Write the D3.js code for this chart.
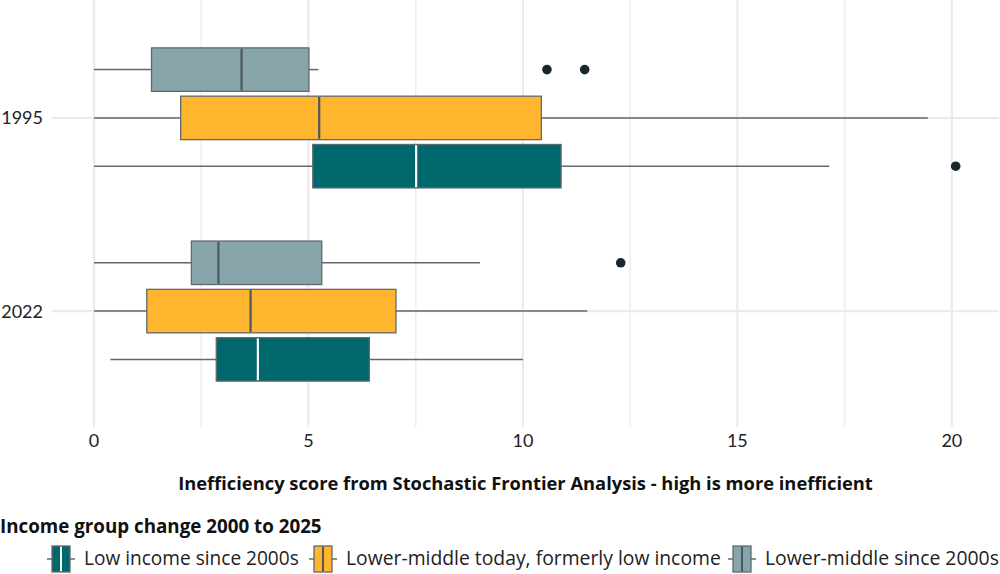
<!DOCTYPE html>
<html>
<head>
<meta charset="utf-8">
<script src="https://cdn.jsdelivr.net/npm/d3@7"></script>
<style>
  html, body { margin: 0; padding: 0; background: #fff; }
  svg { display: block; font-family: "Open Sans", "Noto Sans", sans-serif; }
</style>
</head>
<body>
<svg id="chart" width="1000" height="574"></svg>
<script>
// ---- data ----
const years = ["1995", "2022"];
const groups = ["Low income since 2000s", "Lower-middle today, formerly low income", "Lower-middle since 2000s"];
const colors = ["#00676d", "#ffb52e", "#87a5ab"];
const medianColors = ["#ffffff", "#4d585c", "#4d585c"];
// [whiskerLow, q1, median, q3, whiskerHigh] per year
const lowIncomeStats = [[0, 5.10, 7.51, 10.89, 17.14], [0.38, 2.85, 3.82, 6.42, 10.0]];
const lowerMidFormerStats = [[0, 2.02, 5.25, 10.43, 19.44], [0, 1.23, 3.65, 7.04, 11.5]];
const lowerMidStats = [[0, 1.34, 3.44, 5.01, 5.23], [0, 2.27, 2.90, 5.31, 9.0]];
const lowIncomeOutliers = [[20.09], []];
const lowerMidFormerOutliers = [[], []];
const lowerMidOutliers = [[10.56, 11.44], [12.28]];
const xTicks = [0, 5, 10, 15, 20];
const xMinor = [2.5, 7.5, 12.5, 17.5];
const xTitle = "Inefficiency score from Stochastic Frontier Analysis - high is more inefficient";
const legendTitle = "Income group change 2000 to 2025";

const stats = [lowIncomeStats, lowerMidFormerStats, lowerMidStats];
const outliers = [lowIncomeOutliers, lowerMidFormerOutliers, lowerMidOutliers];
// dodge offsets (in year units): low income bottom, lower-middle top
const dodge = [0.25, 0, -0.25];
const boxH = 0.225;

// scale a text's font size so that it spans the wanted width
function fitText(sel, width) {
  const base = 16;
  sel.attr("font-size", base);
  const w = sel.node().getComputedTextLength();
  if (w > 0) sel.attr("font-size", base * width / w);
  return sel;
}

// ---- layout ----
const svg = d3.select("#chart");
const panel = { left: 52, right: 999, top: 2, bottom: 427 };
const x = d3.scaleLinear().domain([-0.98, 21.1]).range([panel.left, panel.right]);
const y = d3.scaleLinear().domain([0.4, 2.6]).range([panel.top, panel.bottom]);
const yPos = yr => y(years.indexOf(yr) + 1);

const grid = svg.append("g");
grid.selectAll("line.minor").data(xMinor).join("line")
  .attr("x1", d => x(d)).attr("x2", d => x(d))
  .attr("y1", panel.top - 2).attr("y2", panel.bottom)
  .attr("stroke", "#efefef").attr("stroke-width", 1.6);
grid.selectAll("line.major").data(xTicks).join("line")
  .attr("x1", d => x(d)).attr("x2", d => x(d))
  .attr("y1", panel.top - 2).attr("y2", panel.bottom)
  .attr("stroke", "#ebebeb").attr("stroke-width", 2.2);
grid.selectAll("line.ymajor").data(years).join("line")
  .attr("x1", panel.left).attr("x2", panel.right)
  .attr("y1", d => yPos(d)).attr("y2", d => yPos(d))
  .attr("stroke", "#ebebeb").attr("stroke-width", 2.2);

// ---- boxes ----
const outlineCol = "#5f6a6d";
const boxes = svg.append("g");
groups.forEach((g, gi) => {
  years.forEach((yr, yi) => {
    const s = stats[gi][yi];
    const cy = y(yi + 1 + dodge[gi]);
    const h = y(boxH) - y(0);
    const grp = boxes.append("g");
    grp.append("line").attr("x1", x(s[0])).attr("x2", x(s[1]))
      .attr("y1", cy).attr("y2", cy).attr("stroke", outlineCol).attr("stroke-width", 1.5);
    grp.append("line").attr("x1", x(s[3])).attr("x2", x(s[4]))
      .attr("y1", cy).attr("y2", cy).attr("stroke", outlineCol).attr("stroke-width", 1.5);
    grp.append("rect").attr("x", x(s[1])).attr("width", x(s[3]) - x(s[1]))
      .attr("y", cy - h / 2).attr("height", h)
      .attr("fill", colors[gi]).attr("stroke", outlineCol).attr("stroke-width", 1.3);
    grp.append("line").attr("x1", x(s[2])).attr("x2", x(s[2]))
      .attr("y1", cy - h / 2 + 0.8).attr("y2", cy + h / 2 - 0.8)
      .attr("stroke", medianColors[gi]).attr("stroke-width", 2.2);
    grp.selectAll("circle").data(outliers[gi][yi]).join("circle")
      .attr("cx", d => x(d)).attr("cy", cy).attr("r", 4.8).attr("fill", "#17272b");
  });
});

// ---- axes text ----
svg.append("g").selectAll("text").data(years).join("text")
  .attr("x", 43).attr("y", d => yPos(d) + 6.5).attr("text-anchor", "end")
  .attr("font-family", "Lato, sans-serif").attr("font-size", 18)
  .attr("fill", "#222").text(d => d);
svg.append("g").selectAll("text").data(xTicks).join("text")
  .attr("x", d => x(d)).attr("y", 447).attr("text-anchor", "middle")
  .attr("font-family", "Lato, sans-serif").attr("font-size", 18)
  .attr("fill", "#222").text(d => d);

const xt = svg.append("text").attr("x", 525.5).attr("y", 490)
  .attr("text-anchor", "middle").attr("font-weight", "bold")
  .attr("fill", "#111").text(xTitle);
fitText(xt, 695);

// ---- legend ----
const lt = svg.append("text").attr("x", 0).attr("y", 532.5)
  .attr("font-weight", "bold").attr("fill", "#111").text(legendTitle);
fitText(lt, 322);

const legendX = [47, 309, 728];
const legendTextW = [215, 375, 234];
const leg = svg.append("g");
groups.forEach((g, gi) => {
  const lx = legendX[gi];
  const cy = 559;
  const k = leg.append("g");
  k.append("line").attr("x1", lx).attr("x2", lx + 28).attr("y1", cy).attr("y2", cy)
    .attr("stroke", outlineCol).attr("stroke-width", 1.5);
  k.append("rect").attr("x", lx + 5).attr("width", 18).attr("y", cy - 13).attr("height", 26)
    .attr("fill", colors[gi]).attr("stroke", outlineCol).attr("stroke-width", 1.3);
  k.append("line").attr("x1", lx + 14).attr("x2", lx + 14).attr("y1", cy - 12.3).attr("y2", cy + 12.3)
    .attr("stroke", medianColors[gi]).attr("stroke-width", 2);
  const t = k.append("text").attr("x", lx + 37).attr("y", cy + 5.5)
    .attr("fill", "#222").text(g);
  fitText(t, legendTextW[gi]);
});
</script>
</body>
</html>
